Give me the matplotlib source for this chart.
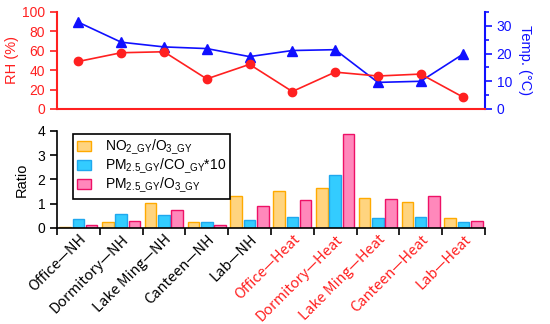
import numpy as np
import matplotlib
matplotlib.use('Agg')
import matplotlib.pyplot as plt
from matplotlib.ticker import MultipleLocator

plt.rcParams['font.family'] = ['Liberation Sans', 'DejaVu Sans']
plt.rcParams['mathtext.fontset'] = 'custom'
plt.rcParams['mathtext.rm'] = 'Liberation Sans'

# 数据
sites = ['Office—NH', 'Dormitory—NH', 'Lake Ming—NH', 'Canteen—NH', 'Lab—NH',
         'Office—Heat', 'Dormitory—Heat', 'Lake Ming—Heat', 'Canteen—Heat', 'Lab—Heat']
rh = [49, 58, 59, 31, 46, 18, 38, 34, 36, 12]
temp = [31.3, 24.1, 22.4, 21.8, 18.9, 21.1, 21.4, 9.6, 10.0, 19.9]
no2_o3 = [0.03, 0.23, 1.02, 0.25, 1.31, 1.53, 1.66, 1.25, 1.09, 0.43]
pm_co = [0.39, 0.56, 0.52, 0.23, 0.34, 0.47, 2.19, 0.40, 0.47, 0.26]
pm_o3 = [0.12, 0.30, 0.76, 0.11, 0.89, 1.17, 3.89, 1.21, 1.32, 0.29]

x = np.arange(len(sites))

fig = plt.figure(figsize=(5.5, 3.24), dpi=100)
ax1 = fig.add_axes([0.1036, 0.6636, 0.778, 0.2994])
ax2 = fig.add_axes([0.1036, 0.2963, 0.778, 0.2994])

# 上图：RH 与温度
red = '#FF2020'
blue = '#1010FF'
ax1.plot(x, rh, color=red, marker='o', ms=6, lw=1.2)
ax1.set_xlim(-0.5, 9.5)
ax1.set_ylim(0, 100)
ax1.set_xticks([])
ax1.spines['top'].set_visible(False)
ax1.spines['right'].set_visible(False)
ax1.spines['left'].set_color(red)
ax1.spines['bottom'].set_color(red)
ax1.spines['left'].set_linewidth(1.5)
ax1.spines['bottom'].set_linewidth(1.5)
ax1.tick_params(axis='y', colors=red, labelsize=10, length=5, width=1.2)
ax1.yaxis.set_major_locator(MultipleLocator(20))
ax1.set_ylabel('RH (%)', color=red, fontsize=10.5, labelpad=2)

ax1t = ax1.twinx()
ax1t.plot(x, temp, color=blue, marker='^', ms=6.5, lw=1.2)
ax1t.set_ylim(0, 35)
for s in ['top', 'left', 'bottom']:
    ax1t.spines[s].set_visible(False)
ax1t.spines['right'].set_color(blue)
ax1t.spines['right'].set_linewidth(1.5)
ax1t.yaxis.set_major_locator(MultipleLocator(10))
ax1t.yaxis.set_minor_locator(MultipleLocator(5))
ax1t.tick_params(axis='y', which='major', colors=blue, labelsize=10, length=5, width=1.2)
ax1t.tick_params(axis='y', which='minor', colors=blue, length=3, width=1.2)
ax1t.set_ylabel('Temp. (°C)', color=blue, fontsize=10.5, rotation=-90, labelpad=14)
ax1t.set_zorder(ax1.get_zorder() - 1)
ax1.patch.set_visible(False)

# 下图：比值柱状图
w = 0.27
off = 0.31
ax2.bar(x - off, no2_o3, w, color='#FFD47F', edgecolor='#FFAA00', lw=1,
        label='NO$_{\\mathregular{2\\_GY}}$/O$_{\\mathregular{3\\_GY}}$')
ax2.bar(x, pm_co, w, color='#33CCFF', edgecolor='#1FA8EE', lw=1,
        label='PM$_{\\mathregular{2.5\\_GY}}$/CO$_{\\mathregular{\\_GY}}$*10')
ax2.bar(x + off, pm_o3, w, color='#FF88BB', edgecolor='#EE1166', lw=1,
        label='PM$_{\\mathregular{2.5\\_GY}}$/O$_{\\mathregular{3\\_GY}}$')
ax2.set_xlim(-0.5, 9.5)
ax2.set_ylim(0, 4)
ax2.yaxis.set_major_locator(MultipleLocator(1))
ax2.spines['top'].set_visible(False)
ax2.spines['right'].set_visible(False)
ax2.spines['left'].set_linewidth(1.2)
ax2.spines['bottom'].set_linewidth(1.2)
ax2.set_xticks(np.arange(-0.5, 10, 1))
ax2.set_xticklabels([])
ax2.set_xticks(x, minor=True)
ax2.set_xticklabels(sites, minor=True, rotation=45, ha='right', rotation_mode='anchor',
                    fontsize=10.5, family=['Noto Sans CJK SC', 'DejaVu Sans'])
ax2.tick_params(axis='x', which='major', length=5, width=1.2)
ax2.tick_params(axis='x', which='minor', length=0, pad=3)
ax2.tick_params(axis='y', labelsize=10, length=5, width=1.2)
for i, lab in enumerate(ax2.get_xticklabels(minor=True)):
    lab.set_color('black' if i < 5 else red)
ax2.set_ylabel('Ratio', fontsize=10.5, labelpad=6)
leg = ax2.legend(loc='upper left', bbox_to_anchor=(0.03, 1.0), fontsize=10,
                 frameon=True, fancybox=False, edgecolor='black', framealpha=1,
                 handlelength=1.0, handleheight=0.7, handletextpad=1.0,
                 labelspacing=0.0, borderpad=0.3, borderaxespad=0.2)
leg.get_frame().set_linewidth(1.2)

fig.savefig('out.png', dpi=100)
